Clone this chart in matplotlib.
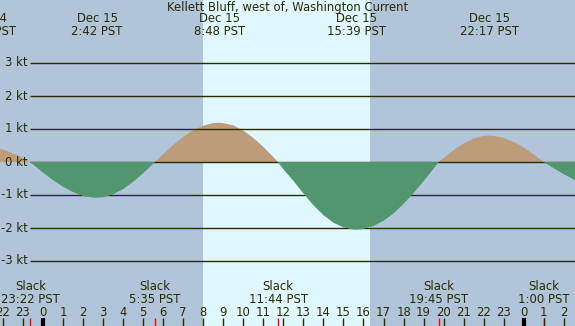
import numpy as np
import matplotlib
matplotlib.use("Agg")
import matplotlib.pyplot as plt

# Current speed (kt), hours from Dec 15 00:00 PST
hours = [-2.5, -2.0, -1.5, -1.0, -0.633, -0.5, 0.0, 0.5, 1.0, 1.5, 2.0, 2.5, 2.7,
         3.0, 3.5, 4.0, 4.5, 5.0, 5.5, 5.583, 6.0, 6.5, 7.0, 7.5, 8.0, 8.5, 8.8,
         9.0, 9.5, 10.0, 10.5, 11.0, 11.5, 11.733, 12.0, 12.5, 13.0, 13.5, 14.0,
         14.5, 15.0, 15.5, 15.65, 16.0, 16.5, 17.0, 17.5, 18.0, 18.5, 19.0, 19.5,
         19.75, 20.0, 20.5, 21.0, 21.5, 22.0, 22.283, 22.5, 23.0, 23.5, 24.0, 24.5,
         25.0, 25.5, 26.0, 26.5, 27.0]
speed = [0.44, 0.38, 0.26, 0.12, 0.0, -0.07, -0.32, -0.55, -0.75, -0.91, -1.03, -1.08, -1.08,
         -1.07, -0.98, -0.82, -0.60, -0.34, -0.05, 0.0, 0.24, 0.52, 0.76, 0.96, 1.10, 1.18, 1.19,
         1.18, 1.11, 0.95, 0.73, 0.46, 0.15, 0.0, -0.22, -0.57, -0.95, -1.31, -1.61,
         -1.84, -1.98, -2.05, -2.05, -2.03, -1.94, -1.78, -1.56, -1.27, -0.94, -0.58, -0.20,
         0.0, 0.12, 0.36, 0.56, 0.71, 0.79, 0.80, 0.79, 0.73, 0.61, 0.44, 0.23,
         0.0, -0.19, -0.37, -0.53, -0.68]

max_times = [-2.8, 2.7, 8.8, 15.65, 22.283]
max_dates = ["Dec 14", "Dec 15", "Dec 15", "Dec 15", "Dec 15"]
max_clock = ["21:12 PST", "2:42 PST", "8:48 PST", "15:39 PST", "22:17 PST"]

slack_times = [-0.633, 5.583, 11.733, 19.75, 25.0]
slack_clock = ["23:22 PST", "5:35 PST", "11:44 PST", "19:45 PST", "1:00 PST"]

sunrise, sunset = 7.98, 16.32
levels = [3, 2, 1, 0, -1, -2, -3]

NIGHT = "#b0c4da"
DAY = "#dff8ff"
FLOOD = "#bd9c7c"
EBB = "#529670"
INK = "#2b2b00"
FS = 8.4

PX_PER_HR = 20.03
X0 = 43.0        # pixel of midnight Dec 15
Y0, PX_PER_KT = 162.0, 33.0


def yv(px):
    # pixel row -> data value
    return (Y0 - px) / PX_PER_KT


def xh(px):
    return (px - X0) / PX_PER_HR


fig = plt.figure(figsize=(5.75, 3.26), dpi=100)
ax = fig.add_axes([0, 0, 1, 1])
ax.set_xlim(xh(0), xh(575))
ax.set_ylim(yv(326), yv(0))
ax.axis("off")
ax.set_facecolor(NIGHT)
fig.patch.set_facecolor(NIGHT)

ax.axvspan(sunrise, sunset, color=DAY, zorder=0, lw=0)

t = np.array(hours)
v = np.array(speed)
ax.fill_between(t, 0, v, where=v >= 0, interpolate=True, color=FLOOD, lw=0, zorder=1)
ax.hlines(levels, xh(30), xh(580), color=INK, lw=1.0, zorder=2)
ax.fill_between(t, 0, v, where=v <= 0, interpolate=True, color=EBB, lw=0, zorder=3)

for lv in levels:
    ax.text(xh(28), lv, f"{lv} kt", ha="right", va="center", fontsize=FS, color=INK, zorder=5)

ax.text(0.5, yv(7), "Kellett Bluff, west of, Washington Current", transform=ax.get_yaxis_transform(),
        ha="center", va="center", fontsize=FS, color=INK, zorder=5)
for tm, d, c in zip(max_times, max_dates, max_clock):
    ax.text(tm, yv(19), d, ha="center", va="center", fontsize=FS, color=INK, zorder=5)
    ax.text(tm, yv(31.5), c, ha="center", va="center", fontsize=FS, color=INK, zorder=5)

for tm, c in zip(slack_times, slack_clock):
    ax.text(tm, yv(287), "Slack", ha="center", va="center", fontsize=FS, color=INK, zorder=5)
    ax.text(tm, yv(299.5), c, ha="center", va="center", fontsize=FS, color=INK, zorder=5)
    ax.vlines(tm, yv(326), yv(318), color="red", lw=1.0, zorder=5)

# hour ticks along the bottom
for h in range(-2, 27):
    ax.text(h, yv(312), str(h % 24), ha="center", va="center", fontsize=FS, color=INK, zorder=5)
    if h % 24 == 0:
        ax.vlines(h, yv(326), yv(318), color="black", lw=3.0, zorder=5)
    else:
        ax.vlines(h, yv(326), yv(318), color=INK, lw=1.0, zorder=5)

fig.savefig("out.png", dpi=100, facecolor=NIGHT)
